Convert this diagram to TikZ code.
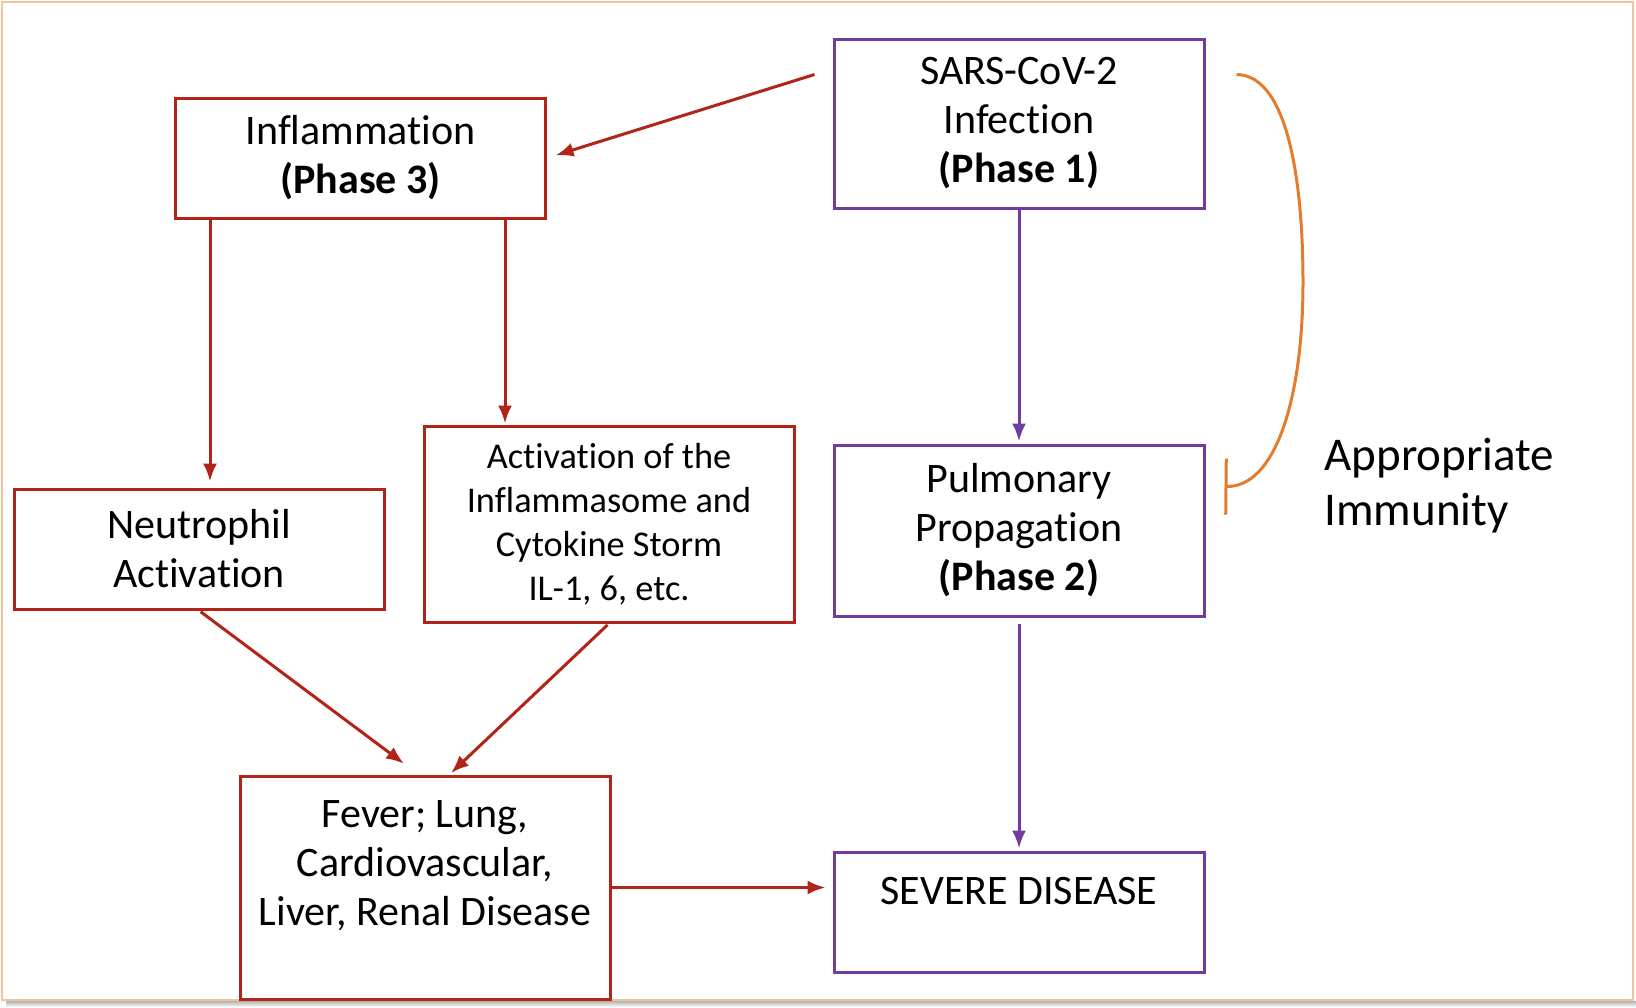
\documentclass[tikz,border=0pt]{standalone}
\usepackage{fontspec}
\setmainfont{Carlito}[Ligatures=NoCommon]
\usetikzlibrary{arrows.meta,calc}

\definecolor{covred}{RGB}{178,36,24}
\definecolor{covpurple}{RGB}{112,60,160}
\definecolor{covorange}{RGB}{228,124,46}
\definecolor{framepeach}{RGB}{242,196,156}

\tikzset{
  boxtext/.style={align=center, font=\fontsize{42}{49}\selectfont},
  smalltext/.style={align=center, font=\fontsize{36.3}{44}\selectfont},
  redbox/.style={draw=covred, line width=3pt, minimum width=370pt, inner sep=0pt},
  purplebox/.style={draw=covpurple, line width=3pt, minimum width=370pt, inner sep=0pt},
  redarrow/.style={draw=covred, line width=3pt, -{Latex[length=18pt,width=14pt]}},
  purplearrow/.style={draw=covpurple, line width=3pt, -{Latex[length=18pt,width=14pt]}}
}

\begin{document}
\begin{tikzpicture}[x=1pt,y=-1pt]
\useasboundingbox (0,0) rectangle (1636,1007);

% frame and its shadow
\shade [top color=gray!60, bottom color=white] (6,1001) rectangle (1636,1007);
\draw [framepeach, line width=2.5pt] (2,2) rectangle (1633,1000);

% right column
\node [purplebox, boxtext, minimum height=169pt] (p1) at (1019,123.5) {SARS-CoV-2\\Infection\\\textbf{(Phase 1)}};
\node [purplebox, boxtext, minimum height=171pt] (p2) at (1019,530.5) {Pulmonary\\Propagation\\\textbf{(Phase 2)}};
\node [purplebox, minimum height=120pt] (sev) at (1019,912) {};
\node [boxtext] (sevtext) at (1019,891) {SEVERE DISEASE};

% left part
\node [redbox, boxtext, minimum height=120pt] (infl) at (360.5,158) {Inflammation\\\textbf{(Phase 3)}};
\node [redbox, boxtext, minimum height=120pt] (neut) at (199,549) {Neutrophil\\Activation};
\node [redbox, smalltext, minimum height=196pt] (act) at (609,524) {Activation of the\\Inflammasome and\\Cytokine Storm\\IL-1, 6, etc.};
\node [redbox, minimum height=223pt] (fever) at (425,887.5) {};
\node [boxtext] (fevertext) at (425,866) {Fever; Lung,\\Cardiovascular,\\Liver, Renal Disease};

\node [align=left, anchor=west, font=\fontsize{47}{55}\selectfont] (immun) at (1321,486) {Appropriate\\Immunity};

% arrows
\draw [redarrow, shorten >=9pt] ($(p1.north west)+(-18,37)$) -- (infl.east);
\draw [redarrow, shorten >=6pt] ([xshift=36pt]infl.south west) -- ([xshift=36pt]infl.south west |- neut.north);
\draw [redarrow, shorten >=1pt] ([xshift=-42pt]infl.south east) -- ([xshift=-42pt]infl.south east |- act.north);
\draw [redarrow, shorten <=2pt, shorten >=18pt] (neut.south) -- ($(fever.north west)+(180,0)$);
\draw [redarrow, shorten <=2pt, shorten >=2pt] (act.south) -- ($(fever.north west)+(211,0)$);
\draw [redarrow, shorten >=7pt] (fever.east) -- (fever.east -| sev.west);

\draw [purplearrow, shorten >=2pt] (p1.south) -- (p2.north);
\draw [purplearrow, shorten <=6pt, shorten >=2pt] (p2.south) -- (sev.north);

% inhibition by immunity
\draw [covorange, line width=3pt, -{Bar[width=56pt]}] ($(p1.north east)+(31,37)$) .. controls (1290,75) and (1303,190) .. (1303,282) .. controls (1303,400) and (1275,487) .. ($(p2.north east)+(19,43)$);
\end{tikzpicture}
\end{document}
